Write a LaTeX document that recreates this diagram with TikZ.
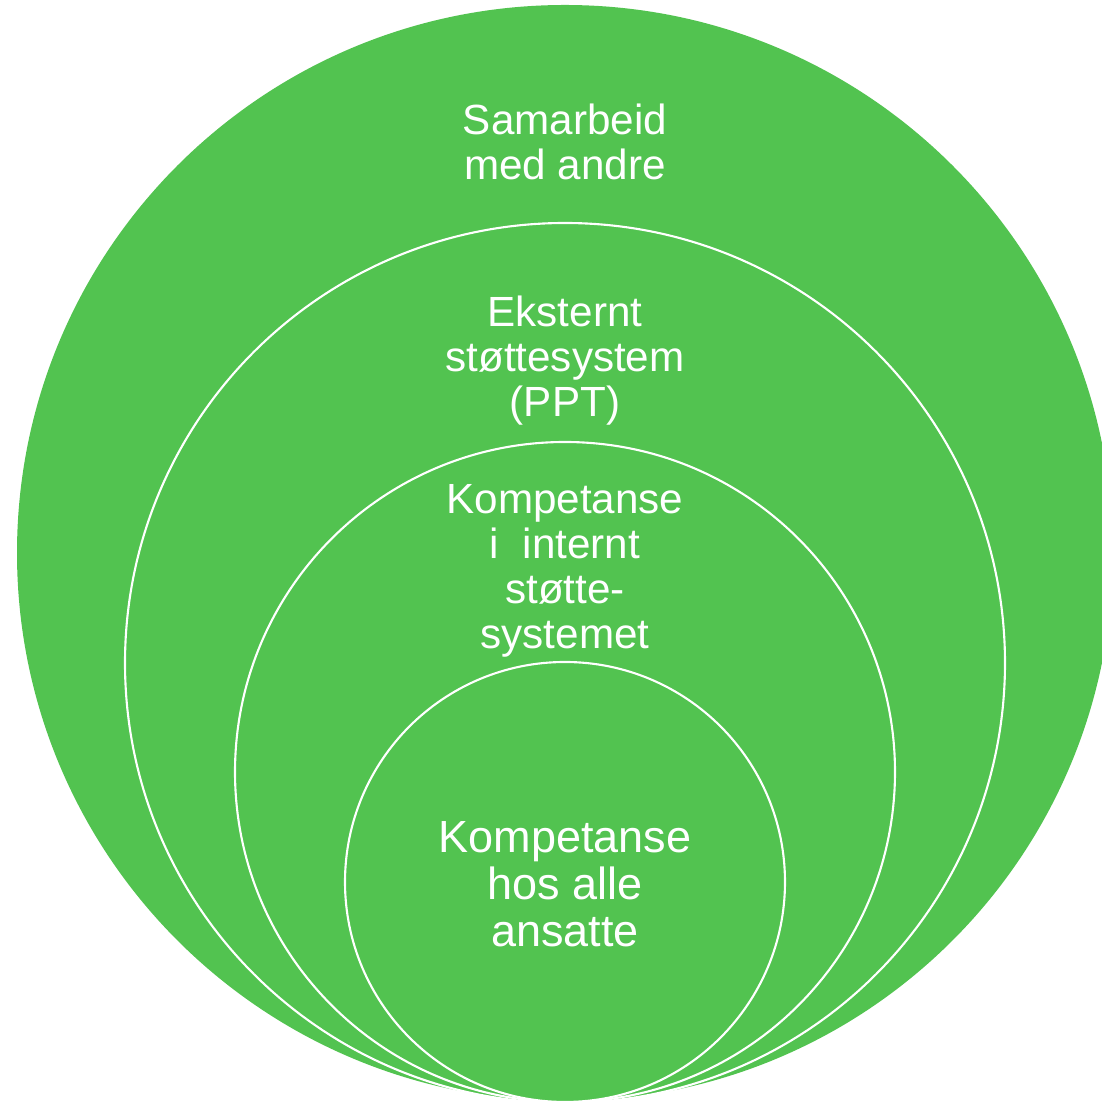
\documentclass[tikz,border=0pt]{standalone}
\usepackage{fontspec}
\setmainfont{Liberation Sans}
\definecolor{ringgreen}{RGB}{82,195,80}
\tikzset{
  ring/.style={fill=ringgreen, draw=white, line width=0.6pt},
  ringtext/.style={text=white, align=center, inner sep=0pt, font=\fontsize{12}{12.8}\selectfont}
}
\begin{document}
\begin{tikzpicture}[x=0.01cm, y=-0.01cm]
        \useasboundingbox (0, 0) rectangle (1102, 1101);
        % rings, outer first
        \fill[ringgreen] (565, 553) circle[radius=548];
        \draw[ring] (565, 663) circle[radius=440];
        \draw[ring] (565, 772) circle[radius=330];
        \draw[ring] (565, 882) circle[radius=220];

        \node[ringtext] (samarbeid) at (565, 142) {Samarbeid\\med andre};
        \node[ringtext] (eksternt) at (565, 361) {Eksternt\\støttesystem\\(PPT)};
        \node[ringtext] (internt) at (565, 571) {Kompetanse\\i~~internt\\støtte-\\systemet};
        % innermost text a bit larger
        \node[ringtext, font=\fontsize{12.8}{13.4}\selectfont] (ansatte) at (565, 884) {Kompetanse\\hos alle\\ansatte};
    \end{tikzpicture}
\end{document}
